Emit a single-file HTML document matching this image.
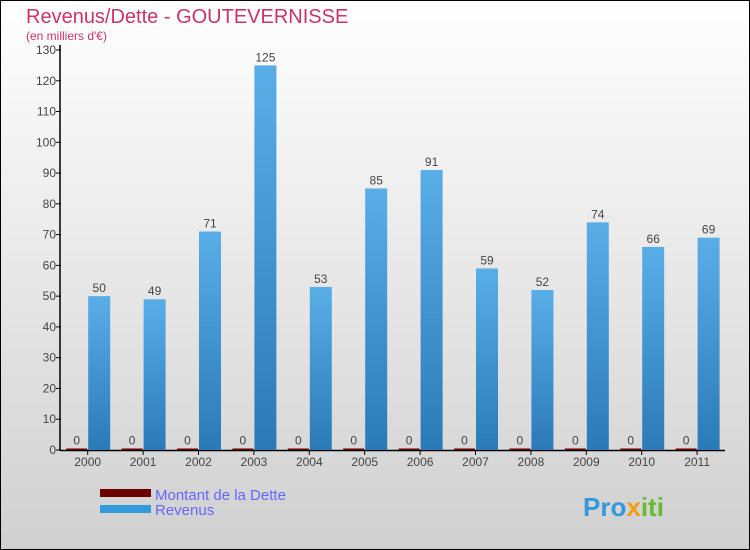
<!DOCTYPE html>
<html><head><meta charset="utf-8"><style>
body{margin:0}
svg{display:block;font-family:"Liberation Sans",sans-serif}
</style></head><body>
<svg id="c" width="750" height="550" xmlns="http://www.w3.org/2000/svg">
<defs>
<linearGradient id="bg" x1="0" y1="0" x2="0" y2="1"><stop offset="0" stop-color="#ffffff"/><stop offset="1" stop-color="#d0d0d0"/></linearGradient>
<linearGradient id="rv" x1="0" y1="0" x2="0" y2="1"><stop offset="0" stop-color="#5aaee8"/><stop offset="1" stop-color="#2a7ab8"/></linearGradient>
</defs>
<rect x="0.5" y="0.5" width="749" height="549" fill="url(#bg)" stroke="#000"/>
<text x="26" y="23" font-size="20" fill="#cc3366">Revenus/Dette - GOUTEVERNISSE</text>
<text x="26" y="40" font-size="12" fill="#cc3366">(en milliers d'€)</text>
<g id="plot"></g>
<rect x="100" y="489" width="51" height="8" fill="#6b0000"/>
<rect x="100" y="505" width="51" height="8" fill="#3399dd"/>
<text x="155" y="500" font-size="15" fill="#6666ff">Montant de la Dette</text>
<text x="155" y="515" font-size="15" fill="#6666ff">Revenus</text>
<text x="583" y="516" font-size="26" font-weight="bold" fill="#3399dd">Pro<tspan fill="#f39c12">x</tspan><tspan fill="#66bb33">iti</tspan></text>
</svg>
<script>
const years=["2000","2001","2002","2003","2004","2005","2006","2007","2008","2009","2010","2011"];
const dette=[0,0,0,0,0,0,0,0,0,0,0,0];
const revenus=[50,49,71,125,53,85,91,59,52,74,66,69];
const yTicks=[0,10,20,30,40,50,60,70,80,90,100,110,120,130];
const NS="http://www.w3.org/2000/svg";
const g=document.getElementById("plot");
const y=v=>450-v*400/130;
const xc=i=>87.7+i*55.4;
function mk(t,a,txt){const e=document.createElementNS(NS,t);for(const k in a)e.setAttribute(k,a[k]);if(txt!==undefined)e.textContent=txt;g.appendChild(e);return e;}
let e=mk("line",{x1:60,y1:45,x2:60,y2:451,stroke:"#000","stroke-width":1.5});


e=mk("line",{x1:60,y1:450.5,x2:725,y2:450.5,stroke:"#000","stroke-width":1.5});


yTicks.forEach(v=>{
 const t=mk("line",{x1:56,y1:y(v),x2:61,y2:y(v),stroke:"#000"});
 
 
 const l=mk("text",{x:56,y:y(v)+4,"font-size":12,fill:"#444","text-anchor":"end"},v);
 
 
});
years.forEach((yr,i)=>{
 const c=xc(i);
 const t=mk("line",{x1:c,y1:450,x2:c,y2:455,stroke:"#000"});
 
 
 const l=mk("text",{x:c,y:466,"font-size":12,fill:"#444","text-anchor":"middle"},yr);
 
 
 const dh=Math.max(1.5,450-y(dette[i]));
 const d=mk("rect",{x:c-21.5,y:450-dh,width:21,height:dh,fill:"#6b0000"});
 
 
 const dl=mk("text",{x:c-11,y:450-dh-4,"font-size":12,fill:"#444","text-anchor":"middle"},dette[i]);
 
 
 const r=mk("rect",{x:c+0.5,y:y(revenus[i]),width:22,height:450-y(revenus[i]),fill:"url(#rv)"});
 
 
 const rl=mk("text",{x:c+11.5,y:y(revenus[i])-4,"font-size":12,fill:"#444","text-anchor":"middle"},revenus[i]);
 
 
});
</script>
</body></html>
